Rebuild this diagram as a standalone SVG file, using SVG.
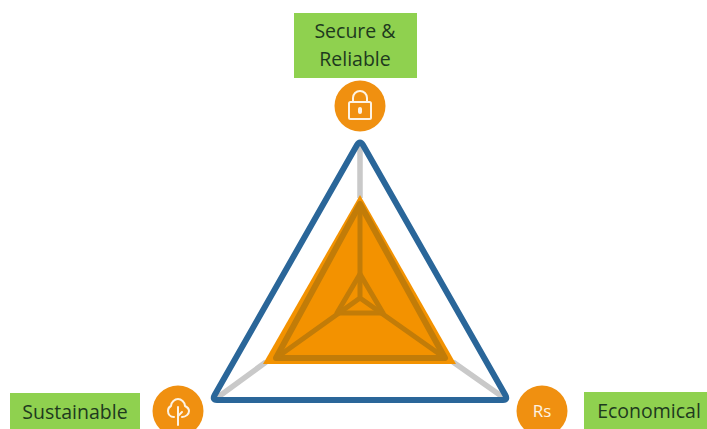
<svg xmlns="http://www.w3.org/2000/svg" width="707" height="429" viewBox="0 0 707 429">
<style>
.box{fill:#8fd14f}
.lbl{font-family:"Open Sans","Noto Sans","Liberation Sans",sans-serif;font-size:19.5px;fill:#1e3a1e;text-anchor:middle}
.disc{fill:#f09010}
.ico{fill:none;stroke:#fdf3e3;stroke-width:2;stroke-linejoin:round;stroke-linecap:round}
.spoke{fill:none;stroke:#c9c9c9;stroke-width:5.500}
.frame{fill:none;stroke:#2a6699;stroke-width:6;stroke-linejoin:round}
.dark{fill:none;stroke:#c27c08;stroke-width:6;stroke-linejoin:round}
.thin{stroke-width:5}
</style>
<rect width="707" height="429" fill="#fff"/>
<g id="connectors">
<path class="spoke" d="M360 142V198M214 400L266 362M507 400L453 362"/>
<path class="frame" d="M357 145Q360 140 363 145L505.300 395Q508 400 503 400H217Q212 400 214.700 395Z"/>
</g>
<g id="radar">
<path d="M360 195L456 364H263Z" fill="#f39200"/>
<path class="dark" d="M360 204L445 358H276Z"/>
<path class="dark thin" d="M360 274L383 313H337Z"/>
<path class="dark thin" d="M360 204V298M276 358L360 298L445 358"/>
</g>
<g id="secure">
<rect class="box" x="294" y="13" width="123" height="65"/>
<text class="lbl" x="355" y="38">Secure &amp;</text>
<text class="lbl" x="355" y="66">Reliable</text>
<circle class="disc" cx="360" cy="106" r="25.500"/>
<rect class="ico" x="349" y="102" width="22" height="17" rx="1.500"/>
<path class="ico" d="M353 102V98a7 7 0 0 1 14 0V102"/>
<rect class="ico" x="359" y="108" width="2" height="5" rx="1"/>
</g>
<g id="sustainable">
<rect class="box" x="10" y="393" width="130" height="36"/>
<text class="lbl" x="75" y="419">Sustainable</text>
<circle class="disc" cx="178" cy="411" r="25.500"/>
<path class="ico" d="M174 417c-4 0-6-3-6-6c0-2 1-4 3-5c0-4 4-7 7-7s7 3 7 7c2 1 4 3 4 5c0 3-3 6-7 6"/>
<path class="ico" d="M178 407V425M178 416L182 412"/>
</g>
<g id="economical">
<circle class="disc" cx="542" cy="411" r="25.500"/>
<text x="542" y="417" font-family="'Open Sans','Noto Sans',sans-serif" font-size="17" fill="#fdf3e3" text-anchor="middle">Rs</text>
<rect class="box" x="584" y="392" width="123" height="37"/>
<text class="lbl" x="649" y="418">Economical</text>
</g>
</svg>
